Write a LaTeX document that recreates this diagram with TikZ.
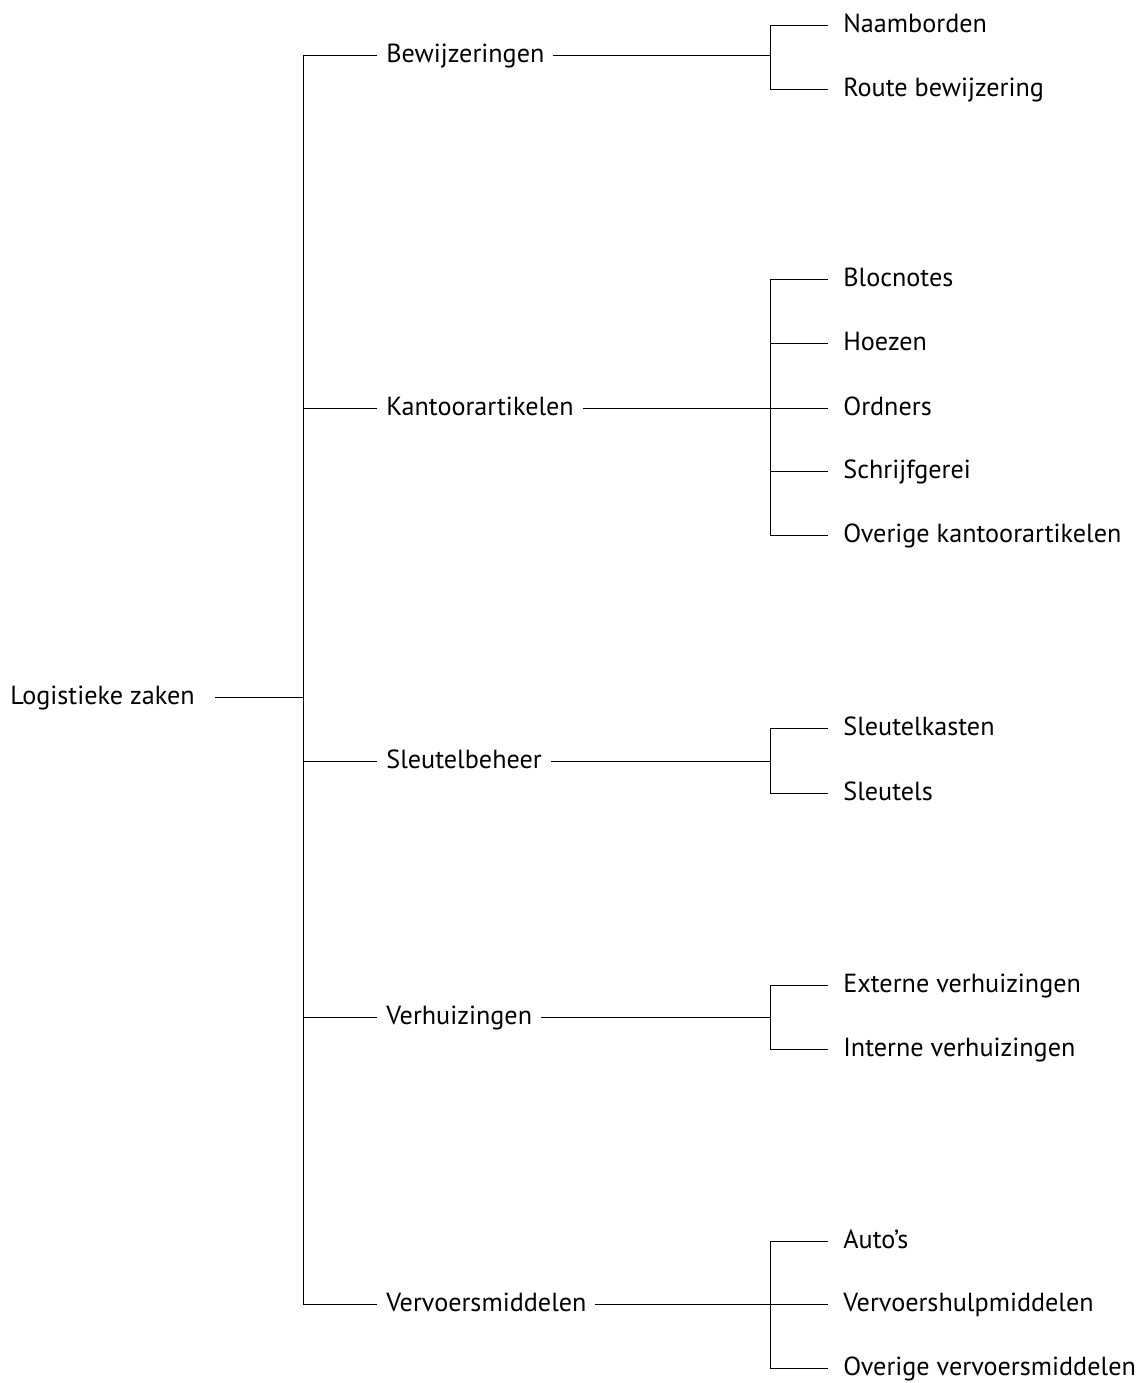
\documentclass[tikz,border=0pt]{standalone}
\usepackage{fontspec}
\setmainfont{PT Sans}
\usepackage{tikz}
\usetikzlibrary{positioning, calc}

\begin{document}
\begin{tikzpicture}[
    x=0.02cm, y=-0.02cm,
    every node/.style={font=\fontsize{14.9pt}{17pt}\selectfont},
    item/.style={
        anchor=west,
        inner ysep=0pt,
        text height=2.2ex,
        text depth=0.5ex
    },
    rootitem/.style={item, inner xsep=0.4cm},
    mainitem/.style={item, inner xsep=0.18cm},
    subitem/.style={item, inner xsep=0.3cm},
    branch/.style={thin, line cap=rect}
]

\useasboundingbox (0,0) rectangle (1143,1383);

% Hoofdonderwerp
\node[rootitem] (logistiek) at (-10,697) {Logistieke zaken};
\coordinate (stam) at (303,697);

% Onderwerpen
\node[mainitem] (bewijzering) at (377,55) {Bewijzeringen};
\node[mainitem] (kantoor) at (377,408) {Kantoorartikelen};
\node[mainitem] (sleutel) at (377,761) {Sleutelbeheer};
\node[mainitem] (verhuizing) at (377,1017) {Verhuizingen};
\node[mainitem] (vervoer) at (377,1304) {Vervoersmiddelen};

% Splitsingen
\coordinate (bewsplit) at (770,55);
\coordinate (kantsplit) at (770,408);
\coordinate (sleusplit) at (770,761);
\coordinate (verhsplit) at (770,1017);
\coordinate (vervsplit) at (770,1304);

% Subonderwerpen
\node[subitem] (naamborden) at (828,25) {Naamborden};
\node[subitem] (route) at (828,89) {Route bewijzering};

\node[subitem] (blocnotes) at (828,279) {Blocnotes};
\node[subitem] (hoezen) at (828,343) {Hoezen};
\node[subitem] (ordners) at (828,408) {Ordners};
\node[subitem] (schrijfgerei) at (828,471) {Schrijfgerei};
\node[subitem] (overkantoor) at (828,535) {Overige kantoorartikelen};

\node[subitem] (sleutelkasten) at (828,728) {Sleutelkasten};
\node[subitem] (sleutels) at (828,793) {Sleutels};

\node[subitem] (extern) at (828,985) {Externe verhuizingen};
\node[subitem] (intern) at (828,1049) {Interne verhuizingen};

\node[subitem] (autos) at (828,1241) {Auto’s};
\node[subitem] (hulpmiddelen) at (828,1304) {Vervoershulpmiddelen};
\node[subitem] (oververvoer) at (828,1368) {Overige vervoersmiddelen};


% Hoofdonderwerp -> stam
\draw[branch] (logistiek.east) -- (stam);
\draw[branch] (stam |- bewijzering) -- (stam |- vervoer);


% Stam -> onderwerpen
\draw[branch] (stam |- bewijzering) -- (bewijzering.west);
\draw[branch] (stam |- kantoor) -- (kantoor.west);
\draw[branch] (stam |- sleutel) -- (sleutel.west);
\draw[branch] (stam |- verhuizing) -- (verhuizing.west);
\draw[branch] (stam |- vervoer) -- (vervoer.west);


% Onderwerpen -> splitsingen
\draw[branch] (bewijzering.east) -- (bewsplit);
\draw[branch] (kantoor.east) -- (kantsplit);
\draw[branch] (sleutel.east) -- (sleusplit);
\draw[branch] (verhuizing.east) -- (verhsplit);
\draw[branch] (vervoer.east) -- (vervsplit);


% Bewijzeringen
\draw[branch] (bewsplit |- naamborden) -- (bewsplit |- route);
\draw[branch] (bewsplit |- naamborden) -- (naamborden.west);
\draw[branch] (bewsplit |- route) -- (route.west);

% Kantoorartikelen
\draw[branch] (kantsplit |- blocnotes) -- (kantsplit |- overkantoor);
\draw[branch] (kantsplit |- blocnotes) -- (blocnotes.west);
\draw[branch] (kantsplit |- hoezen) -- (hoezen.west);
\draw[branch] (kantsplit |- ordners) -- (ordners.west);
\draw[branch] (kantsplit |- schrijfgerei) -- (schrijfgerei.west);
\draw[branch] (kantsplit |- overkantoor) -- (overkantoor.west);

% Sleutelbeheer
\draw[branch] (sleusplit |- sleutelkasten) -- (sleusplit |- sleutels);
\draw[branch] (sleusplit |- sleutelkasten) -- (sleutelkasten.west);
\draw[branch] (sleusplit |- sleutels) -- (sleutels.west);

% Verhuizingen
\draw[branch] (verhsplit |- extern) -- (verhsplit |- intern);
\draw[branch] (verhsplit |- extern) -- (extern.west);
\draw[branch] (verhsplit |- intern) -- (intern.west);

% Vervoersmiddelen
\draw[branch] (vervsplit |- autos) -- (vervsplit |- oververvoer);
\draw[branch] (vervsplit |- autos) -- (autos.west);
\draw[branch] (vervsplit |- hulpmiddelen) -- (hulpmiddelen.west);
\draw[branch] (vervsplit |- oververvoer) -- (oververvoer.west);

\end{tikzpicture}
\end{document}
